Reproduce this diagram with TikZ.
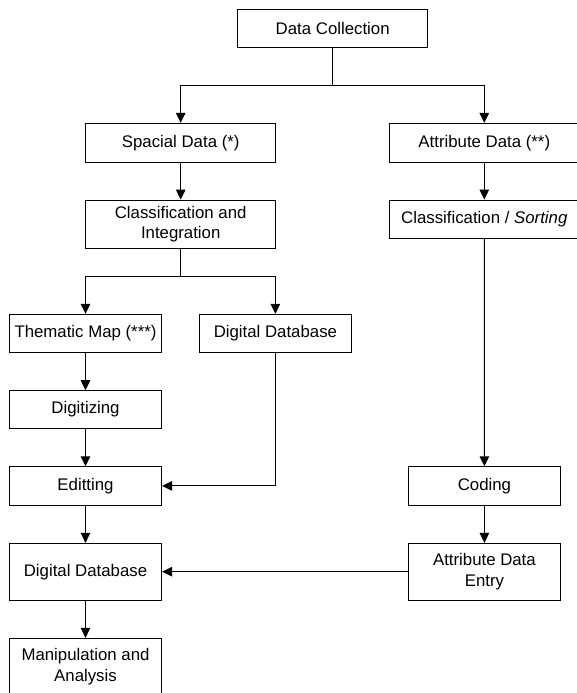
\documentclass[tikz,border=0pt]{standalone}
\usepackage{fontspec}
\setmainfont{Liberation Sans}
\usetikzlibrary{arrows.meta}
\begin{document}
\begin{tikzpicture}[x=1pt,y=1pt,
  box/.style={draw, line width=1pt, inner sep=0pt, align=center,
    font=\fontsize{16.8}{20.5}\selectfont},
  wide/.style={box, minimum width=190.5pt},
  narrow/.style={box, minimum width=152.2pt},
  arr/.style={-{Triangle[length=10pt,width=9.5pt]}, line width=1pt},
  ln/.style={line width=1pt}]
\useasboundingbox (0,0) rectangle (576,-693);
% top level
\node[wide, minimum height=38pt] (dc) at (332.7,-28.3) {Data Collection};
\node[wide, minimum height=38.7pt] (sp) at (180.7,-142.7) {Spacial Data (*)};
\node[wide, minimum height=38.7pt] (at) at (484.3,-142.7) {Attribute Data (**)};
\node[wide, minimum height=48.3pt] (ci) at (180.7,-224.2) {Classification and\\Integration};
\node[wide, minimum height=38.3pt] (cs) at (484.3,-219.2) {Classification / \textit{Sorting}};
% lower
\node[narrow, minimum height=38pt] (tm) at (85.5,-333.3) {Thematic Map (***)};
\node[narrow, minimum height=38pt] (dd) at (275.4,-333.3) {Digital Database};
\node[narrow, minimum height=37.6pt] (dg) at (85.5,-409.5) {Digitizing};
\node[narrow, minimum height=38.3pt] (ed) at (85.5,-485.9) {Editting};
\node[narrow, minimum height=38.3pt] (co) at (484.4,-485.9) {Coding};
\node[narrow, minimum height=56.7pt] (db) at (85.5,-571.7) {Digital Database};
\node[narrow, minimum height=56.7pt] (ad) at (484.4,-571.7) {Attribute Data\\Entry};
\node[narrow, minimum height=56.7pt] (mn) at (85.5,-666.7) {Manipulation and\\Analysis};
% split points
\coordinate (s1) at (332.7,-85.7);
\coordinate (s2) at (180.7,-276.3);
% connectors
\draw[ln] (dc.south) -- (s1);
\draw[arr] (s1) -| (sp.north);
\draw[arr] (s1) -| (at.north);
\draw[arr] (sp) -- (ci);
\draw[arr] (at) -- (cs);
\draw[ln] (ci.south) -- (s2);
\draw[arr] (s2) -| (tm.north);
\draw[arr] (s2) -| (dd.north);
\draw[arr] (cs) -- (co);
\draw[arr] (tm) -- (dg);
\draw[arr] (dg) -- (ed);
\draw[arr] (dd.south) |- (ed.east);
\draw[arr] (co) -- (ad);
\draw[arr] (ed) -- (db);
\draw[arr] (ad) -- (db);
\draw[arr] (db) -- (mn);
\end{tikzpicture}
\end{document}
